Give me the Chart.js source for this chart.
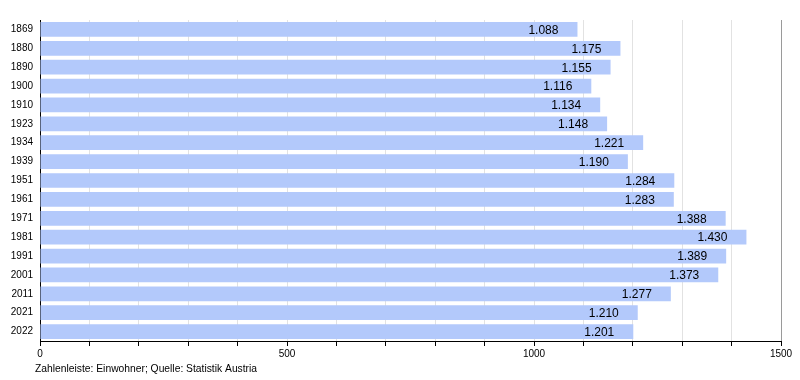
<!DOCTYPE html>
<html>
<head>
<meta charset="utf-8">
<script src="https://cdn.jsdelivr.net/npm/chart.js@4/dist/chart.umd.min.js"></script>
<style>
html,body{margin:0;padding:0;background:#fff;}
#wrap{width:800px;height:380px;position:relative;}
</style>
</head>
<body>
<div id="wrap"><canvas id="c" width="800" height="380"></canvas></div>
<script>
const years = ["1869","1880","1890","1900","1910","1923","1934","1939","1951","1961","1971","1981","1991","2001","2011","2021","2022"];
const population = [1088,1175,1155,1116,1134,1148,1221,1190,1284,1283,1388,1430,1389,1373,1277,1210,1201];
const axisMin = 0;
const axisMax = 1500;
const axisStep = 100;
const labelStep = 500;
const footnote = "Zahlenleiste: Einwohner; Quelle: Statistik Austria";

const FONT = "'Liberation Sans', Arial, Helvetica, sans-serif";

function fmt(v){
  return String(v).replace(/\B(?=(\d{3})+(?!\d))/g, ".");
}

const valueLabels = {
  id: 'valueLabels',
  afterDatasetsDraw(chart){
    const ctx = chart.ctx;
    const meta = chart.getDatasetMeta(0);
    ctx.save();
    ctx.font = "12px " + FONT;
    ctx.fillStyle = "#000";
    ctx.textAlign = "right";
    ctx.textBaseline = "middle";
    meta.data.forEach((bar, i) => {
      ctx.fillText(fmt(population[i]), bar.x - 19, bar.y + 1);
    });
    ctx.restore();
  }
};

const footnotePlugin = {
  id: 'footnote',
  afterDraw(chart){
    const ctx = chart.ctx;
    ctx.save();
    ctx.font = "10.3px " + FONT;
    ctx.fillStyle = "#000";
    ctx.textAlign = "left";
    ctx.textBaseline = "middle";
    ctx.fillText(footnote, 35, 369);
    ctx.restore();
  }
};

new Chart(document.getElementById('c'), {
  type: 'bar',
  data: {
    labels: years,
    datasets: [{
      data: population,
      backgroundColor: '#b3c9fb',
      borderWidth: 0,
      barPercentage: 0.78,
      categoryPercentage: 1.0
    }]
  },
  options: {
    indexAxis: 'y',
    responsive: false,
    animation: false,
    devicePixelRatio: 1,
    layout: { padding: { top: 20, right: 19, bottom: 0, left: 0 } },
    plugins: { legend: { display: false }, tooltip: { enabled: false } },
    scales: {
      x: {
        min: axisMin,
        max: axisMax,
        afterFit(scale){ scale.height = 39; },
        afterBuildTicks(scale){
          const t = [];
          for (let v = axisMin; v <= axisMax; v += axisStep) t.push({value: v});
          scale.ticks = t;
        },
        ticks: {
          autoSkip: false,
          maxRotation: 0,
          color: '#000',
          font: { family: FONT, size: 10 },
          padding: 2,
          callback: (v) => (v % labelStep === 0 ? String(v) : '')
        },
        grid: {
          color: (c) => (c.tick && c.tick.value === axisMax ? '#9a9a9a' : '#e2e2e2'),
          tickColor: '#000',
          tickLength: 5,
          drawTicks: true
        },
        border: { display: true, color: '#000', width: 1 }
      },
      y: {
        afterFit(scale){ scale.width = 40; },
        ticks: {
          color: '#000',
          font: { family: FONT, size: 10 },
          padding: 7
        },
        grid: { display: false, drawTicks: false },
        border: { display: true, color: '#000', width: 1 }
      }
    }
  },
  plugins: [valueLabels, footnotePlugin]
});
</script>
</body>
</html>
